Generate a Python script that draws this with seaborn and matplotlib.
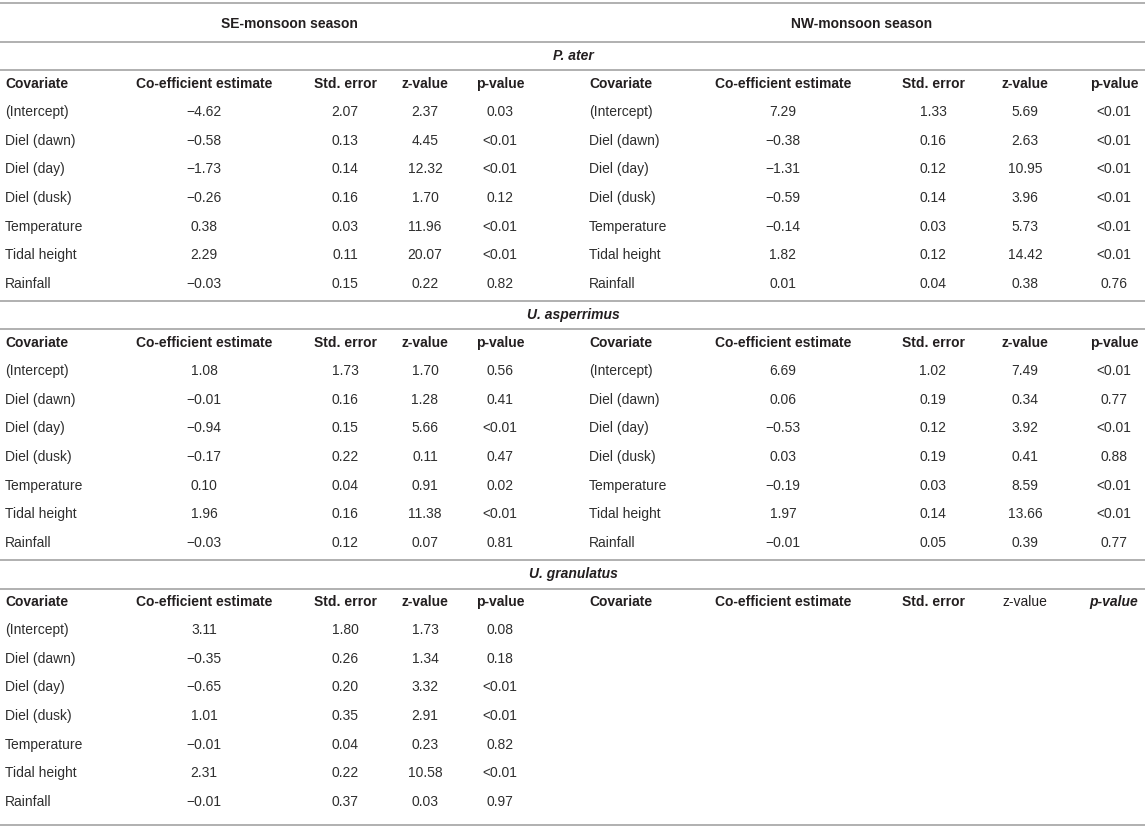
"""
Regression table of covariate effects on sea cucumber activity,
SE- and NW-monsoon seasons, drawn as a figure.
"""

import matplotlib.pyplot as plt
import numpy as np
import pandas as pd
import seaborn as sns

covariates = ["(Intercept)", "Diel (dawn)", "Diel (day)", "Diel (dusk)",
              "Temperature", "Tidal height", "Rainfall"]
header_cols = ["Covariate", "Co-efficient estimate", "Std. error", "z-value", "p-value"]
seasons = ["SE-monsoon season", "NW-monsoon season"]
species = ["P. ater", "U. asperrimus", "U. granulatus"]

# P. ater
pa_se_coef = [-4.62, -0.58, -1.73, -0.26, 0.38, 2.29, -0.03]
pa_se_se = [2.07, 0.13, 0.14, 0.16, 0.03, 0.11, 0.15]
pa_se_z = [2.37, 4.45, 12.32, 1.70, 11.96, 20.07, 0.22]
pa_se_p = ["0.03", "<0.01", "<0.01", "0.12", "<0.01", "<0.01", "0.82"]
pa_nw_coef = [7.29, -0.38, -1.31, -0.59, -0.14, 1.82, 0.01]
pa_nw_se = [1.33, 0.16, 0.12, 0.14, 0.03, 0.12, 0.04]
pa_nw_z = [5.69, 2.63, 10.95, 3.96, 5.73, 14.42, 0.38]
pa_nw_p = ["<0.01", "<0.01", "<0.01", "<0.01", "<0.01", "<0.01", "0.76"]

# U. asperrimus
ua_se_coef = [1.08, -0.01, -0.94, -0.17, 0.10, 1.96, -0.03]
ua_se_se = [1.73, 0.16, 0.15, 0.22, 0.04, 0.16, 0.12]
ua_se_z = [1.70, 1.28, 5.66, 0.11, 0.91, 11.38, 0.07]
ua_se_p = ["0.56", "0.41", "<0.01", "0.47", "0.02", "<0.01", "0.81"]
ua_nw_coef = [6.69, 0.06, -0.53, 0.03, -0.19, 1.97, -0.01]
ua_nw_se = [1.02, 0.19, 0.12, 0.19, 0.03, 0.14, 0.05]
ua_nw_z = [7.49, 0.34, 3.92, 0.41, 8.59, 13.66, 0.39]
ua_nw_p = ["<0.01", "0.77", "<0.01", "0.88", "<0.01", "<0.01", "0.77"]

# U. granulatus (no NW-monsoon model)
ug_se_coef = [3.11, -0.35, -0.65, 1.01, -0.01, 2.31, -0.01]
ug_se_se = [1.80, 0.26, 0.20, 0.35, 0.04, 0.22, 0.37]
ug_se_z = [1.73, 1.34, 3.32, 2.91, 0.23, 10.58, 0.03]
ug_se_p = ["0.08", "0.18", "<0.01", "<0.01", "0.82", "<0.01", "0.97"]


def make_frame(coef, se, z, p):
    return pd.DataFrame({"Covariate": covariates, "Co-efficient estimate": coef,
                         "Std. error": se, "z-value": z, "p-value": p})


tables = {
    "P. ater": [make_frame(pa_se_coef, pa_se_se, pa_se_z, pa_se_p),
                make_frame(pa_nw_coef, pa_nw_se, pa_nw_z, pa_nw_p)],
    "U. asperrimus": [make_frame(ua_se_coef, ua_se_se, ua_se_z, ua_se_p),
                      make_frame(ua_nw_coef, ua_nw_se, ua_nw_z, ua_nw_p)],
    "U. granulatus": [make_frame(ug_se_coef, ug_se_se, ug_se_z, ug_se_p), None],
}


def fmt(v):
    if isinstance(v, str):
        return v
    return f"{v:.2f}".replace("-", "\u2212")


sns.set_theme(style="white")
plt.rcParams["font.family"] = ["Liberation Sans", "DejaVu Sans"]

TXT = "#231f20"
TXT_REG = "#2e2e2e"
LINE = "#a3a3a3"
FS = 10
BASE = 3.6  # baseline offset below a row's visual centre

fig = plt.figure(figsize=(11.45, 8.3), dpi=100)
ax = fig.add_axes([0, 0, 1, 1])
ax.set_xlim(0, 1145)
ax.set_ylim(830, 0)
ax.axis("off")

# column anchors for each season half: covariate left edge, then centres
col_x = [[5, 204, 345, 425, 500], [589, 783, 933, 1025, 1114]]
season_x = [289, 862]


def hline(y):
    ax.plot([0, 1145], [y, y], color=LINE, lw=1.2, solid_capstyle="butt")


def cell(x, y, s, ha="center", **kw):
    kw.setdefault("color", TXT_REG)
    ax.text(x, y + BASE, s, ha=ha, va="baseline", fontsize=FS, **kw)


hline(3)
for s, sx in zip(seasons, season_x):
    cell(sx, 24, s, fontweight="bold", color=TXT)

for k, sp in enumerate(species):
    hy = 84 + k * 259
    hline(hy - 42)
    cell(573, hy - 28, sp, fontweight="bold", fontstyle="italic", color=TXT)
    hline(hy - 13.5)
    for half, df in enumerate(tables[sp]):
        xs = col_x[half]
        for j, name in enumerate(header_cols):
            ha = "left" if j == 0 else "center"
            weight, style = "bold", "normal"
            if df is None and name == "z-value":
                weight = "normal"
            if df is None and name == "p-value":
                style = "italic"
            cell(xs[j], hy, name, ha=ha, fontweight=weight, fontstyle=style,
                 color=TXT)
        if df is None:
            continue
        for i, row in enumerate(df.itertuples(index=False)):
            ry = hy + 28.5 + i * 28.6
            for j, val in enumerate(row):
                ha = "left" if j == 0 else "center"
                cell(xs[j], ry, fmt(val), ha=ha)

hline(825)

fig.savefig("out.png", dpi=100)
plt.close(fig)
